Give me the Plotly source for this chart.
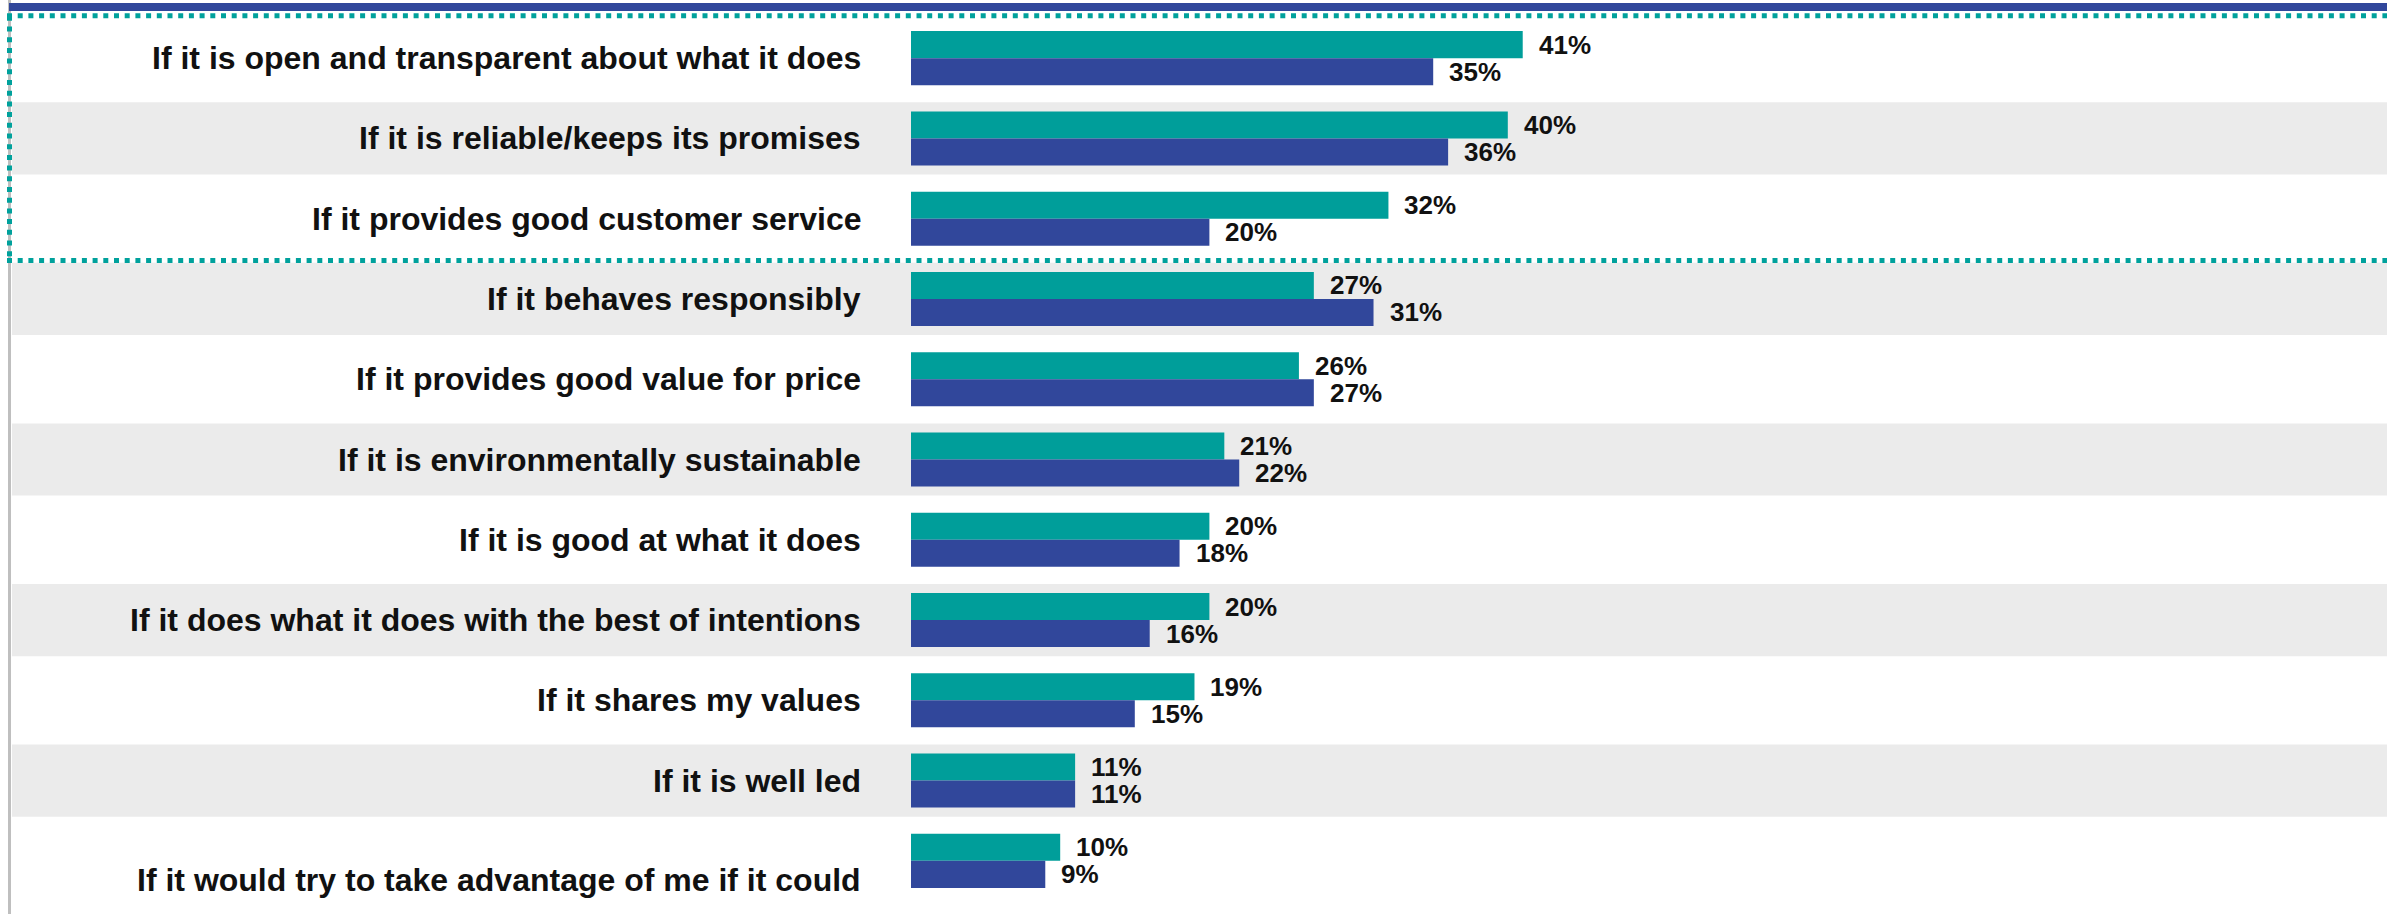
import plotly.graph_objects as go

# ---------------- data ----------------
categories = [
    "If it is open and transparent about what it does",
    "If it is reliable/keeps its promises",
    "If it provides good customer service",
    "If it behaves responsibly",
    "If it provides good value for price",
    "If it is environmentally sustainable",
    "If it is good at what it does",
    "If it does what it does with the best of intentions",
    "If it shares my values",
    "If it is well led",
    "If it would try to take advantage of me if it could",
]
series_a = [41, 40, 32, 27, 26, 21, 20, 20, 19, 11, 10]   # teal
series_b = [35, 36, 20, 31, 27, 22, 18, 16, 15, 11, 9]    # navy
series_names = ["Series A", "Series B"]

# ---------------- style ----------------
TEAL = "#009E9A"
NAVY = "#31479B"
BAND = "#EBEBEB"
TEXT = "#111111"
FONT = "Liberation Sans, Arial, sans-serif"

W, H = 2387, 914
L, R, T, B = 911, 0, 18, 13
PW, PH = W - L - R, H - T - B
N = len(categories)
PX_PER_UNIT = 14.92
BARGAP = 0.327


def xp(px):
    return (px - L) / PW


def yp(py):
    return 1 - (py - T) / PH


def row_center_px(i):
    return T + (i + 0.5) * PH / N


fig = go.Figure()
fig.add_trace(go.Bar(orientation="h", y=categories, x=series_a, name=series_names[0],
                     marker=dict(color=TEAL, line=dict(width=0)), hoverinfo="x+y"))
fig.add_trace(go.Bar(orientation="h", y=categories, x=series_b, name=series_names[1],
                     marker=dict(color=NAVY, line=dict(width=0)), hoverinfo="x+y"))

shapes = []
# alternating grey bands
for i in range(N):
    if i % 2 == 1:
        c = row_center_px(i)
        half = 0.45 * PH / N
        shapes.append(dict(type="rect", xref="paper", yref="paper",
                           x0=xp(12), x1=xp(W + 5), y0=yp(c + half), y1=yp(c - half),
                           fillcolor=BAND, line=dict(width=0), layer="below"))
# grey vertical rule on the left
shapes.append(dict(type="line", xref="paper", yref="paper", x0=xp(9.5), x1=xp(9.5),
                   y0=yp(H + 5), y1=yp(-5), line=dict(color="#BFBFBF", width=3), layer="below"))
# navy top strip
shapes.append(dict(type="rect", xref="paper", yref="paper", x0=xp(9), x1=xp(W + 5),
                   y0=yp(11), y1=yp(3), fillcolor=NAVY, line=dict(width=0), layer="below"))
# dotted highlight box (top 3 rows)
dot = dict(color="#00A19C", width=5, dash="5px,5.7px")
box_top, box_bottom, box_left = 15.8, 260.5, 9.5
shapes.append(dict(type="line", xref="paper", yref="paper", x0=xp(box_left - 2.5), x1=xp(W + 5),
                   y0=yp(box_top), y1=yp(box_top), line=dot, layer="below"))
shapes.append(dict(type="line", xref="paper", yref="paper", x0=xp(box_left - 2.5), x1=xp(W + 5),
                   y0=yp(box_bottom), y1=yp(box_bottom), line=dot, layer="below"))
shapes.append(dict(type="line", xref="paper", yref="paper", x0=xp(box_left), x1=xp(box_left),
                   y0=yp(box_top), y1=yp(box_bottom), line=dot, layer="below"))

annotations = []
off = (1 - BARGAP) / 4
for i, cat in enumerate(categories):
    annotations.append(dict(x=0, xref="paper", y=i, yref="y", text=cat, showarrow=False,
                            xanchor="right", yanchor="middle", xshift=-48,
                            yshift=(-19 if i == N - 1 else 0),
                            font=dict(family=FONT, size=32, color=TEXT, weight="bold")))
    for vals, sign in ((series_a, -1), (series_b, 1)):
        annotations.append(dict(x=vals[i], xref="x", y=i + sign * off, yref="y",
                                text=f"{vals[i]}%", showarrow=False, xanchor="left",
                                yanchor="middle", xshift=14,
                                font=dict(family=FONT, size=26, color=TEXT, weight="bold")))

fig.update_layout(
    width=W, height=H,
    margin=dict(l=L, r=R, t=T, b=B, pad=0),
    paper_bgcolor="white", plot_bgcolor="rgba(0,0,0,0)",
    barmode="group", bargap=BARGAP, bargroupgap=0,
    showlegend=False,
    shapes=shapes, annotations=annotations,
    xaxis=dict(range=[0, PW / PX_PER_UNIT], showgrid=False, zeroline=False,
               showticklabels=False, showline=False, fixedrange=True),
    yaxis=dict(type="category", categoryorder="array", categoryarray=categories,
               range=[N - 0.5, -0.5], showgrid=False, zeroline=False,
               showticklabels=False, showline=False, fixedrange=True),
    font=dict(family=FONT),
)

fig.write_html("out.html", config={"displayModeBar": False})
